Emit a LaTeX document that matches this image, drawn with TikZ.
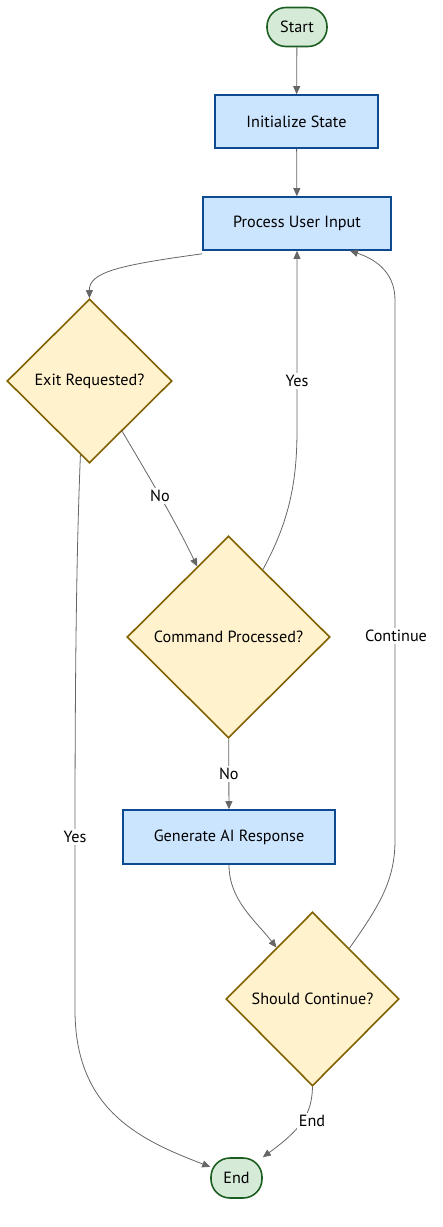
\documentclass[tikz,border=0pt]{standalone}
\usepackage{fontspec}
\setmainfont{PT Sans}
\usetikzlibrary{shapes.geometric,arrows.meta}
\definecolor{bfill}{HTML}{CCE5FF}
\definecolor{bdraw}{HTML}{0D4A92}
\definecolor{dfill}{HTML}{FFF2CC}
\definecolor{ddraw}{HTML}{826200}
\definecolor{gfill}{HTML}{D5EBD8}
\definecolor{gdraw}{HTML}{1B5E20}
\definecolor{edge}{HTML}{666666}
\tikzset{
  every node/.style={font=\fontsize{16.2}{19}\selectfont, inner sep=0pt},
  procbox/.style={rectangle, draw=bdraw, fill=bfill, line width=1.6pt},
  decbox/.style={diamond, draw=ddraw, fill=dfill, line width=1.6pt, aspect=1},
  termbox/.style={rectangle, rounded corners=19pt, draw=gdraw, fill=gfill, line width=1.6pt},
  conn/.style={draw=edge, line width=0.8pt, -{Triangle[length=8pt,width=7pt]}},
  elabel/.style={fill=white, inner sep=2pt}
}
\begin{document}
\begin{tikzpicture}[x=1pt,y=-1pt]
\useasboundingbox (0,0) rectangle (443,1227);
\node[termbox, minimum width=60pt, minimum height=39pt] (start) at (297,27) {Start};
\node[procbox, minimum width=163pt, minimum height=53pt] (init) at (296.5,121.5) {Initialize State};
\node[procbox, minimum width=188pt, minimum height=53pt] (pui) at (297,223.5) {Process User Input};
\node[decbox, minimum width=165pt, minimum height=164pt] (ex) at (89.5,381) {Exit Requested?};
\node[decbox, minimum width=203pt, minimum height=202pt] (cp) at (228.5,637) {Command Processed?};
\node[procbox, minimum width=212pt, minimum height=54pt] (gen) at (229,837) {Generate AI Response};
\node[decbox, minimum width=173pt, minimum height=174pt] (sc) at (312.5,999) {Should Continue?};
\node[termbox, minimum width=51pt, minimum height=40pt] (endn) at (236.5,1178) {End};

\draw[conn] ([yshift=-3pt]pui.south west) .. controls (120,265) and (89,272) .. (ex.north);
\draw[conn] (start) -- (init);
\draw[conn] (init) -- (pui);
\draw[conn] (ex.-57) .. controls (145,470) and (175,520) .. (cp.114) node[pos=0.5, elabel] {No};
\draw[conn] (cp.63) .. controls (290,520) and (297,480) .. (297,430) -- (pui.south -| 297,0);
\node[elabel] (lyes1) at (297,381) {Yes};
\draw[conn] (cp) -- (gen) node[midway, elabel] {No};
\draw[conn] (gen.south) .. controls (229,900) and (255,920) .. (sc.125);
\draw[conn] (sc.54) .. controls (380,905) and (395,880) .. (395,840) -- (395,300) .. controls (395,270) and (372,258) .. (pui.south -| 350,0);
\node[elabel] (lcont) at (396,636) {Continue};
\draw[conn] (sc.south) .. controls (312,1115) and (300,1130) .. (endn.north east);
\node[elabel] (lend) at (312,1121) {End};
\draw[conn] (ex.-97) .. controls (76,560) and (75,700) .. (75,840) -- (75,1010) .. controls (75,1110) and (140,1140) .. (endn.157);
\node[elabel] (lyes) at (75,837) {Yes};
\end{tikzpicture}
\end{document}
